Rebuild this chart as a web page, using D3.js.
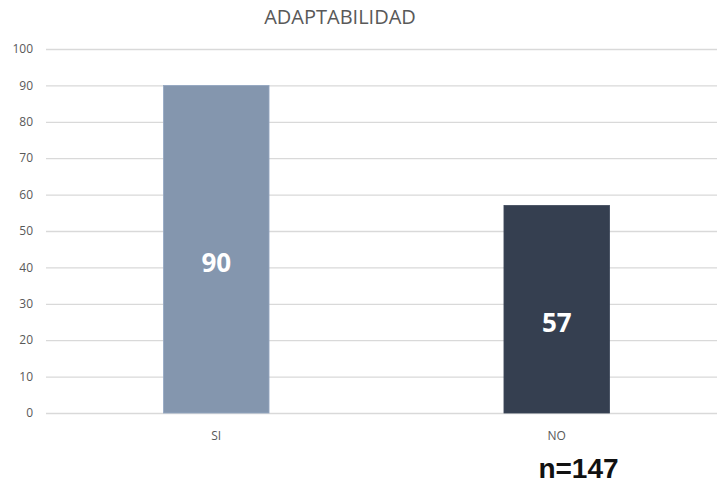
<!DOCTYPE html>
<html>
<head>
<meta charset="utf-8">
<script src="https://cdn.jsdelivr.net/npm/d3@7"></script>
<style>
  body { margin: 0; background: #fff; }
  svg { display: block; font-family: "Open Sans", "Liberation Sans", sans-serif; }
  .grid line { stroke: #d9d9d9; stroke-width: 1.3; }
  .grid path { display: none; }
</style>
</head>
<body>
<svg></svg>
<script>
var categories = ["SI", "NO"];
var values = [90, 57];
var barColors = ["#8496ae", "#353f50"];
var yTicks = [0, 10, 20, 30, 40, 50, 60, 70, 80, 90, 100];
var title = "ADAPTABILIDAD";
var sampleNote = "n=147";

var width = 717,
    height = 484;

var svg = d3.select("svg")
  .attr("width", width)
  .attr("height", height);

var plot = { left: 46, right: 727, top: 49, bottom: 413 };

var x = d3.scaleBand()
  .domain(categories)
  .range([plot.left, plot.right])
  .paddingInner(0.69)
  .paddingOuter(0.345);

var y = d3.scaleLinear()
  .domain([0, 100])
  .range([plot.bottom, plot.top]);

// gridlines
svg.append("g")
    .attr("class", "grid")
    .attr("transform", "translate(" + plot.left + ",0)")
  .call(d3.axisLeft(y).tickValues(yTicks).tickSize(-(width - plot.left)).tickFormat(""))
  .selectAll(".tick text").remove();

// y tick labels
svg.append("g")
    .attr("class", "ylabels")
  .selectAll("text")
  .data(yTicks)
  .enter().append("text")
    .attr("x", 33)
    .attr("y", function(d) { return y(d); })
    .attr("dy", "0.35em")
    .attr("text-anchor", "end")
    .attr("fill", "#595959")
    .attr("font-size", 12)
    .text(function(d) { return d; });

// bars
svg.append("g")
  .selectAll("rect")
  .data(values)
  .enter().append("rect")
    .attr("x", function(d, i) { return x(categories[i]); })
    .attr("y", function(d) { return y(d); })
    .attr("width", x.bandwidth())
    .attr("height", function(d) { return y(0) - y(d); })
    .attr("fill", function(d, i) { return barColors[i]; })
    .attr("stroke", function(d, i) { return d3.color(barColors[i]).brighter(0.3); })
    .attr("stroke-width", 0.8);

// data labels
svg.append("g")
  .selectAll("text")
  .data(values)
  .enter().append("text")
    .attr("x", function(d, i) { return x(categories[i]) + x.bandwidth() / 2; })
    .attr("y", function(d) { return (y(d) + y(0)) / 2 + 14; })
    .attr("dy", "0.35em")
    .attr("text-anchor", "middle")
    .attr("fill", "#ffffff")
    .attr("font-size", 26)
    .attr("font-weight", "bold")
    .text(function(d) { return d; });

// category labels
svg.append("g")
  .selectAll("text")
  .data(categories)
  .enter().append("text")
    .attr("x", function(d) { return x(d) + x.bandwidth() / 2; })
    .attr("y", 440)
    .attr("text-anchor", "middle")
    .attr("fill", "#595959")
    .attr("font-size", 12)
    .text(function(d) { return d; });

// title
svg.append("text")
    .attr("x", 340)
    .attr("y", 24)
    .attr("text-anchor", "middle")
    .attr("fill", "#595959")
    .attr("font-size", 20)
    .text(title);

// sample size
svg.append("text")
    .attr("x", 578.5)
    .attr("y", 478)
    .attr("text-anchor", "middle")
    .attr("fill", "#111")
    .attr("font-family", "Liberation Sans, Arial, sans-serif")
    .attr("font-size", 28)
    .attr("font-weight", "bold")
    .text(sampleNote);
</script>
</body>
</html>
